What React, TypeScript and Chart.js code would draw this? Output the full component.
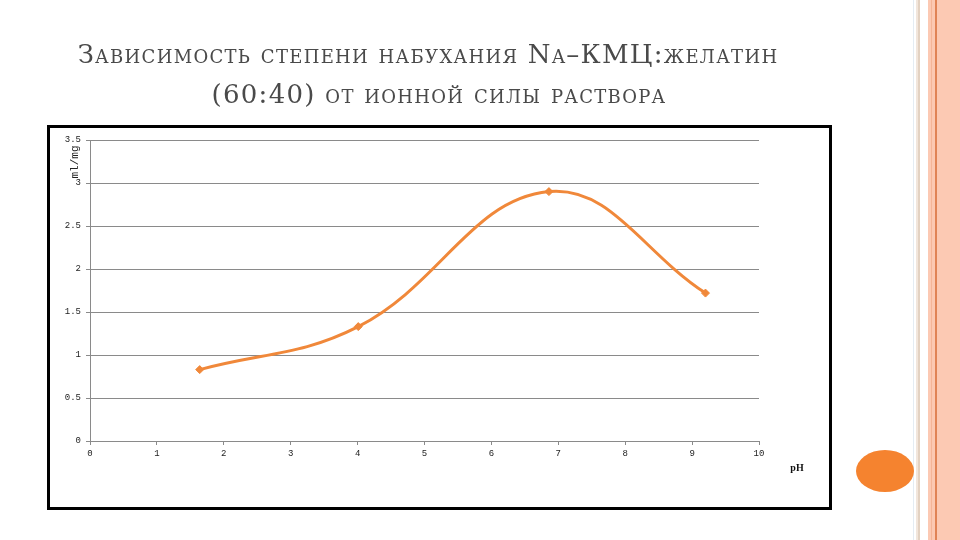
import React, { useEffect, useRef } from "react";
import { Chart, registerables } from "chart.js";

Chart.register(...registerables);

const phValues = [1.64, 4.01, 6.86, 9.2];
const swelling = [0.83, 1.33, 2.9, 1.72];
const titleLine1 = "Зависимость степени набухания Na–КМЦ:желатин";
const titleLine2 = "(60:40) от ионной силы раствора";
const yAxisLabel = "ml/mg";
const xAxisLabel = "pH";

const ORANGE = "#F0883A";
const GRID = "#8a8a8a";

const extras = {
  id: "extras",
  beforeDraw(chart: any) {
    const ctx = chart.ctx;
    ctx.save();
    ctx.strokeStyle = "#000";
    ctx.lineWidth = 3;
    ctx.strokeRect(48.5, 126.5, 782, 382);
    ctx.restore();
  },
  afterDraw(chart: any) {
    const ctx = chart.ctx;
    const ca = chart.chartArea;
    ctx.save();
    ctx.fillStyle = "#222";
    ctx.font = "11px 'Liberation Mono'";
    ctx.translate(ca.left - 15, ca.top + 22);
    ctx.rotate(-Math.PI / 2);
    ctx.textAlign = "center";
    ctx.textBaseline = "middle";
    ctx.fillText(yAxisLabel, 0, 0);
    ctx.restore();
    ctx.save();
    ctx.fillStyle = "#111";
    ctx.font = "bold 10px 'Liberation Serif'";
    ctx.textAlign = "center";
    ctx.textBaseline = "middle";
    ctx.fillText(xAxisLabel, ca.right + 38, ca.bottom + 27);
    ctx.restore();
  },
};

export default function App() {
  const ref = useRef<HTMLCanvasElement | null>(null);
  useEffect(() => {
    if (!ref.current) return;
    const chart = new Chart(ref.current, {
      type: "line",
      data: {
        datasets: [
          {
            data: phValues.map((x, i) => ({ x, y: swelling[i] })),
            borderColor: ORANGE,
            backgroundColor: ORANGE,
            borderWidth: 3,
            pointStyle: "rectRot",
            pointRadius: 4,
            pointBorderWidth: 1,
            tension: 0.4,
          },
        ],
      },
      options: {
        animation: false,
        responsive: false,
        layout: { padding: { left: 50, top: 140, right: 201, bottom: 69 } },
        plugins: { legend: { display: false }, tooltip: { enabled: false }, title: { display: false } },
        scales: {
          x: {
            type: "linear",
            min: 0,
            max: 10,
            ticks: { stepSize: 1, padding: 3, color: "#222", font: { family: "'Liberation Mono'", size: 9 }, maxRotation: 0, callback: (v: any) => String(v) },
            grid: { display: true, drawOnChartArea: false, drawTicks: true, tickLength: 4, color: GRID },
            border: { display: true, color: GRID },
            afterFit: (s: any) => { s.height = 30; },
          },
          y: {
            min: 0,
            max: 3.5,
            ticks: { stepSize: 0.5, padding: 5, color: "#222", font: { family: "'Liberation Mono'", size: 9 }, callback: (v: any) => String(v) },
            grid: { color: GRID, tickLength: 4 },
            border: { display: true, color: GRID },
            afterFit: (s: any) => { s.width = 40; },
          },
        },
      },
      plugins: [extras],
    } as any);
    return () => chart.destroy();
  }, []);

  const titleStyle: React.CSSProperties = {
    position: "absolute",
    whiteSpace: "nowrap",
    transform: "translateX(-50%)",
    fontFamily: "'DejaVu Serif', serif",
    fontVariant: "small-caps",
    fontSize: 26,
    letterSpacing: 1.3,
    lineHeight: "39px",
    color: "#4a4a4a",
  };

  return (
    <div style={{ position: "relative", width: 960, height: 540, background: "#fff", overflow: "hidden" }}>
      <style>{"body{margin:0}"}</style>
      <div style={{ position: "absolute", left: 913, top: 0, width: 1, height: 540, background: "#e4ecf3" }} />
      <div style={{ position: "absolute", left: 916, top: 0, width: 2, height: 540, background: "#f2e6dc" }} />
      <div style={{ position: "absolute", left: 918, top: 0, width: 2, height: 540, background: "#e3d2c2" }} />
      <div style={{ position: "absolute", left: 928, top: 0, width: 32, height: 540, background: "#fcc9b3" }} />
      <div style={{ position: "absolute", left: 931, top: 0, width: 1, height: 540, background: "#f4b598" }} />
      <div style={{ position: "absolute", left: 935, top: 0, width: 2, height: 540, background: "#e08356" }} />
      <div style={{ position: "absolute", left: 856, top: 450, width: 58, height: 42, borderRadius: "50%", background: "#f5832f" }} />
      <canvas ref={ref} width={960} height={540} style={{ position: "absolute", left: 0, top: 0 }} />
      <div style={{ ...titleStyle, left: 428, top: 35 }}>{titleLine1}</div>
      <div style={{ ...titleStyle, left: 439, top: 75 }}>{titleLine2}</div>
    </div>
  );
}
